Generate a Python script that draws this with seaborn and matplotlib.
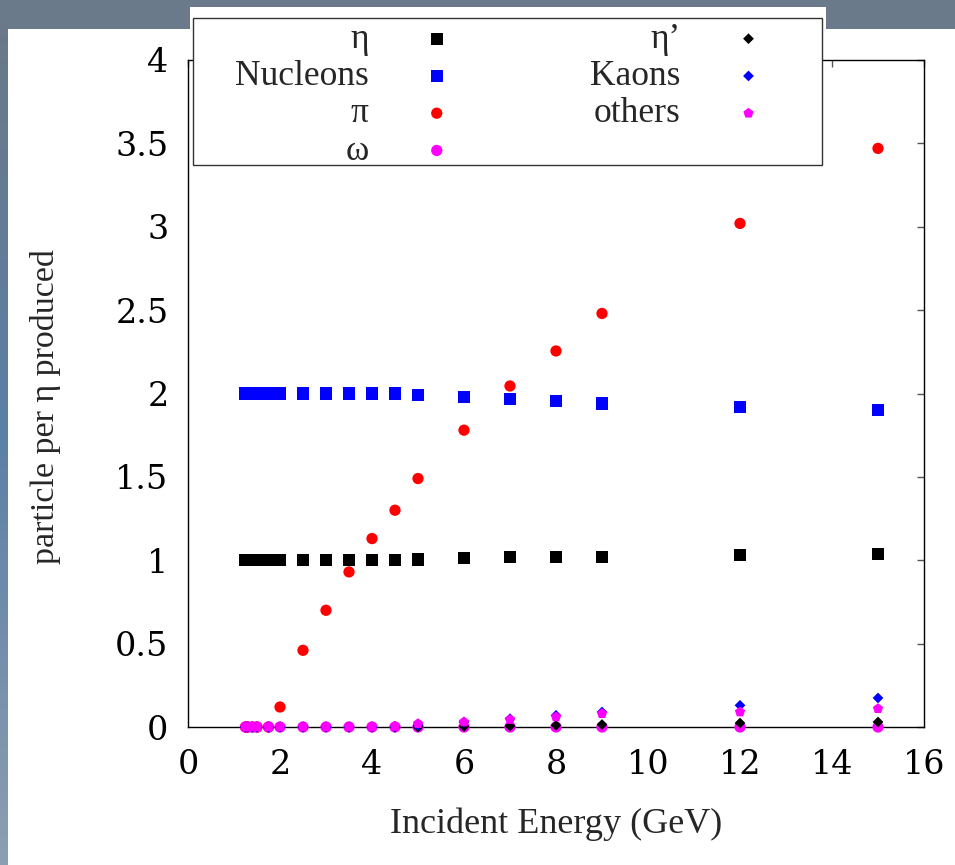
import numpy as np
import pandas as pd
import matplotlib
matplotlib.use("Agg")
import matplotlib.pyplot as plt
from matplotlib.patches import Rectangle
import seaborn as sns

# ---------------- data ----------------
energy = [1.25, 1.3, 1.4, 1.5, 1.75, 2, 2.5, 3, 3.5, 4, 4.5, 5, 6, 7, 8, 9, 12, 15]
eta = [1, 1, 1, 1, 1, 1, 1, 1, 1, 1, 1, 1.005, 1.012, 1.02, 1.02, 1.02, 1.03, 1.037]
nucleons = [2, 2, 2, 2, 2, 2, 2, 2, 2, 2, 2, 1.99, 1.98, 1.967, 1.955, 1.94, 1.92, 1.90]
pions = [0, 0, 0, 0, 0, 0.12, 0.46, 0.70, 0.93, 1.13, 1.30, 1.49, 1.78, 2.045, 2.255, 2.48, 3.02, 3.47]
omega = [0] * 18
eta_prime = [0] * 12 + [0.003, 0.006, 0.01, 0.015, 0.024, 0.03]
kaons = [0] * 10 + [0.003, 0.01, 0.03, 0.05, 0.07, 0.09, 0.13, 0.174]
others = [0] * 10 + [0.003, 0.02, 0.03, 0.045, 0.06, 0.08, 0.09, 0.11]

series_names = ["η", "Nucleons", "π", "ω", "η’", "Kaons", "others"]
series_values = [eta, nucleons, pions, omega, eta_prime, kaons, others]
x_ticks = [0, 2, 4, 6, 8, 10, 12, 14, 16]
y_ticks = [0, 0.5, 1, 1.5, 2, 2.5, 3, 3.5, 4]
y_tick_labels = ["0", "0.5", "1", "1.5", "2", "2.5", "3", "3.5", "4"]

# ---------------- styles ----------------
colors = ["#000000", "#0000ff", "#ff0000", "#ff00ff", "#000000", "#0000ff", "#ff00ff"]
markers = ["s", "s", "o", "o", "D", "D", "p"]
sizes = [78, 78, 66, 66, 30, 30, 60]

sns.set_theme(style="white")
plt.rcParams["font.family"] = ["Liberation Serif", "DejaVu Serif"]
FS_LEG = 25.5
FS_TICK = 24
TICK_FONT = ["DejaVu Serif"]

W, H = 955, 865
fig = plt.figure(figsize=(W / 100, H / 100), dpi=100)

# background gradient (decorative frame)
bg = fig.add_axes([0, 0, 1, 1], zorder=-10)
bg.axis("off")
ny = 200
t = np.linspace(0, 1, ny)[:, None]
top_col = np.array([0.42, 0.47, 0.53])
mid_col = np.array([0.36, 0.50, 0.65])
bot_col = np.array([0.55, 0.62, 0.70])
grad = np.where(t < 0.5, top_col + (mid_col - top_col) * (t / 0.5),
                mid_col + (bot_col - mid_col) * ((t - 0.5) / 0.5))
img = np.repeat(grad[:, None, :], 2, axis=1)
bg.imshow(img, aspect="auto", extent=[0, 1, 0, 1], origin="upper")
bg.set_xlim(0, 1)
bg.set_ylim(0, 1)
bg.add_patch(Rectangle((0, 1 - 30 / H), 1, 30 / H, facecolor="#6a7a8a", edgecolor="none"))

# white panels
fig.patches.append(Rectangle((8 / W, 0), 1 - 8 / W, (H - 29) / H, transform=fig.transFigure,
                             facecolor="white", edgecolor="none", zorder=-5))
fig.patches.append(Rectangle((190 / W, (H - 31) / H), (826 - 190) / W, (31 - 7) / H,
                             transform=fig.transFigure, facecolor="white", edgecolor="none", zorder=-5))

ax = fig.add_axes([188 / W, (H - 727) / H, 736 / W, 667 / H])
ax.set_facecolor("white")

for name, vals, c, m, s in zip(series_names, series_values, colors, markers, sizes):
    df = pd.DataFrame({"energy": energy, "value": vals})
    sns.scatterplot(data=df, x="energy", y="value", ax=ax, color=c, marker=m, s=s,
                    linewidth=0, edgecolor="none", label=name, clip_on=False, zorder=3)

ax.set_xlim(0, 16)
ax.set_ylim(0, 4)
ax.set_xticks(x_ticks)
ax.set_xticklabels([str(v) for v in x_ticks], family=TICK_FONT, fontsize=FS_TICK)
ax.set_yticks(y_ticks)
ax.set_yticklabels(y_tick_labels, family=TICK_FONT, fontsize=FS_TICK)
ax.tick_params(direction="in", length=5, width=1, color="#555555",
               top=True, right=True, labelcolor="black")
ax.tick_params(axis="y", pad=14)
ax.tick_params(axis="x", pad=16)
for sp in ax.spines.values():
    sp.set_visible(True)
    sp.set_color("black")
    sp.set_linewidth(1.0)

ax.set_xlabel("Incident Energy (GeV)", fontsize=26, labelpad=19)
ax.set_ylabel("particle per η produced", fontsize=24.5)
ax.yaxis.set_label_coords(-0.1726, 0.48)

# legend (gnuplot-like key: labels right-aligned, markers to the right)
handles, labels = ax.get_legend_handles_labels()
ax.get_legend().remove()
fig.patches.append(Rectangle((193 / W, (H - 165) / H), (822 - 193) / W, (165 - 18) / H,
                             transform=fig.transFigure, facecolor="white", edgecolor="#333333",
                             linewidth=1.0, zorder=4))
leg = fig.legend(handles, labels, loc="upper left", bbox_to_anchor=(235 / W, (H - 23) / H),
                 bbox_transform=fig.transFigure, ncol=2, markerfirst=False, frameon=False,
                 fontsize=FS_LEG, borderpad=0.0, borderaxespad=0, handlelength=2.0,
                 handletextpad=0.92, columnspacing=3.33, labelspacing=0.12)
leg.set_zorder(10)

fig.savefig("out.png", dpi=100)
